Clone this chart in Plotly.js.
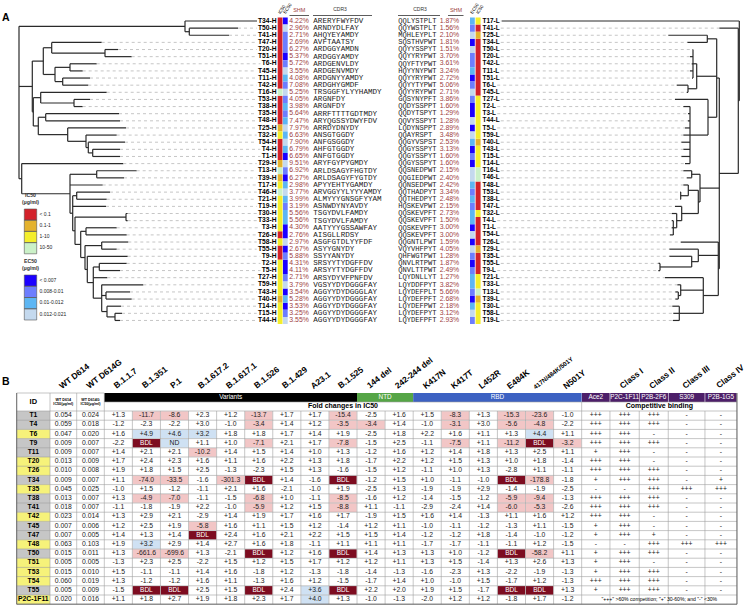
<!DOCTYPE html>
<html>
<head>
<meta charset="utf-8">
<script src="https://cdn.plot.ly/plotly-3.0.1.min.js"></script>
<style>html,body{margin:0;padding:0;background:#fff;}#chart{width:750px;height:606px;}</style>
</head>
<body>
<div id="chart"></div>
<script>
// ======================= DATA : panel A =======================
const heavyIds = ["T34","T50","T41","T47","T20","T51","T6","T45","T11","T42","T16","T53","T38","T35","T48","T25","T32","T54","T4","T1","T29","T13","T39","T17","T46","T21","T19","T30","T33","T3","T26","T58","T55","T9","T2","T5","T27","T59","T43","T40","T14","T15","T44"];
const heavySHM = [4.22,2.96,2.71,2.69,6.27,5.37,5.72,3.55,4.08,7.08,5.25,4.05,3.98,5.64,7.47,7.97,6.63,7.90,6.79,6.65,9.51,6.92,6.27,2.98,3.77,3.99,3.19,5.56,5.56,4.30,2.76,2.97,2.67,5.88,4.31,4.11,2.71,3.79,3.54,5.28,3.53,3.25,3.55];
const heavyCDR3 = ["ARERYFWYFDV","ARNDYDLFAY","AHQYEYAMDY","AVFTAATSY","ARDGGYAMDN","ARDGGYAMDY","ARDGENVLDY","ARDGENVMDY","ARDGNYYAMDY","ARDGHYGMDF","TRSGGFYLYYHAMDY","ARGNFDY","ARGNFDY","ARRFTTTTGDTMDY","ARYQGSSYDWYFDV","ARRDYDNYDY","ANSGTGGDY","ANFGSGGDY","AHFGTGGDY","ANFGTGGDY","ARYFGYPYGMDY","ARLDSAGYFHGTDY","ARLDSAGYFYGTDY","APYYEHTYGAMDY","ARVGGYYLYYYAMDY","ALMYYYGNSGFYYAM","ASNWDYNYAVDY","TSGYDVLFAMDY","TSGYDVLFAMDY","AATYYYGSSAWFAY","AISGLLRDSY","ASGFGTDLYYFDF","ASYYGNYDY","SSYYANYDY","SRSYYTYDGFFDV","ARSYYTYDGFFDV","ARSYDYVFPNFDV","VGSYYDYDGGGFAY","AGGYYDYDGGGLAY","AGGYYDYDGGGFAY","AGGYYDYDGGGFAY","AGGYYDYDGGGFAY","AGGYYDYDGGGFAY"];
// IC50 class (0:<0.1, 1:0.1-1, 2:1-10, 3:10-50) and EC50 class (0:<0.007 .. 3:0.012-0.021), per heavyIds
const ic50Class = [0,0,0,0,0,0,0,0,0,0,3,0,0,0,0,1,2,0,0,0,1,3,1,2,3,2,2,2,2,2,0,2,0,0,2,2,2,2,2,1,2,2,2];
const ec50Class = [0,3,1,1,1,0,1,3,2,1,3,1,2,1,2,3,2,3,2,0,3,1,0,2,3,2,1,2,2,0,0,3,0,1,0,0,1,3,0,2,0,1,3];
const lightIds = ["T17","T41","T25","T34","T50","T20","T42","T11","T51","T6","T45","T27","T2","T3","T44","T5","T59","T40","T43","T15","T14","T16","T46","T48","T53","T38","T47","T32","T4","T1","T54","T26","T29","T35","T55","T9","T21","T33","T13","T39","T30","T58","T19"];
const lightSHM = [1.87,1.56,2.10,1.81,1.51,3.70,3.61,3.24,2.72,5.06,2.71,3.86,1.60,1.29,1.28,2.89,3.48,2.53,3.13,1.60,1.60,2.15,2.40,2.42,3.34,2.48,2.15,2.73,1.50,3.00,3.00,1.59,4.05,1.28,1.87,2.49,1.27,3.82,5.66,2.68,2.18,3.12,2.93];
const lightCDR3 = ["QQLYSTPLT","QQYWSTPLT","MQHLEYPLT","SQSTHVPWT","QQYYSSPYT","QQYYRYPWT","QQYFTYPWT","HQYYNYPWT","QQYYRYPWT","QQYYTYPWT","QQYYRYPWT","GQSYNYPFT","QQDYSSPPT","QQDYTSPYT","QQVYSSPYT","LQDYNSPPT","QQAYRSPT","QQGYVSPST","QQGYSSPYT","QQGYSSPYT","QQGYSSPYT","QQSNEDPWT","QQGIEDPWT","QQNSEDPWT","QQTHADPYT","QQTHEDPYT","HQSKEVPWT","QQSKEVPFT","QQSKEVPFT","QQSKEVPFT","QQSKEVPFT","QQGNTLPWT","VQYVHFPYT","QHFWGTPWT","QNVLRTPWT","QNVLTTPWT","LQYDNLLYT","LQYDDFPYT","LQYDEFPLT","LQYDEFPFT","LQYDEFPWT","LQYDEFPYT","LQYDEFPFT"];
const ic50Legend = ["< 0.1","0.1-1","1-10","10-50"];
const ec50Legend = ["< 0.007","0.008-0.01","0.01-0.012","0.012-0.021"];
// dendrograms: node = [distance from root, ...children]; leaf = [id, distance from root]
const heavyTree = [0,
  [166, ["T34",238], [170.3, ["T50",219], ["T41",210]]],
  [13.3,
    [24.3,
      [32.7, ["T47",82.7], [86, ["T20",99], ["T51",112.7]]],
      [36, [51, ["T6",77.7], ["T45",63.7]], [43.7, ["T11",71], ["T42",69.3]]]],
    [14.3,
      [21.7, ["T16",87.7], [55, ["T53",71], ["T38",63.7]]],
      [19.3, [26.7, ["T35",100], ["T48",101]],
        [48.7, ["T25",107], [67, ["T32",97.7], [69.3, ["T54",106], [73.7, ["T4",101], ["T1",101]]]]]]]],
  [2.7, ["T29",104.3],
    [51, [77.7, ["T13",117.7], ["T39",105]], ["T17",83.7],
      [53.7, [57.7, ["T46",91], ["T21",87.7]], ["T19",87],
        [56, [107, ["T30",108.7], ["T33",108.7]],
          [61.7, [67, ["T3",97.7], ["T26",107.7]],
            [66, [82.7, ["T58",109.3], ["T55",97.7]],
              [68.3, ["T9",108.7],
                [74.3, [80.3, ["T2",107.7], ["T5",101]], ["T27",88.3],
                  [82.7, ["T59",124.3], [87, ["T43",111], ["T40",112.7]],
                    [88, ["T14",102], [96, ["T15",103], ["T44",101]]]]]]]]]]]]
];
const lightTree = [0, ["T17",237.6],
  [1, ["T41",20],
    [20,
      [22.6,
        [32, ["T25",71], ["T34",52]],
        [42.6, [46.3, ["T50",46.6], ["T20",49.3], ["T42",47.6], ["T11",49.3], ["T51",47.3]], [51.3, ["T6",62.6], ["T45",52.6]]],
        [31.3, ["T27",64.3], [49.3, ["T2",56], ["T3",51.3], ["T44",51.3], ["T5",54.3], ["T59",56], ["T40",58], ["T43",56], ["T15",58], ["T14",54.3]]]],
      [39.3,
        [47.6, ["T16",56], ["T46",52.6]],
        [41, [51, ["T48",56], [58.6, ["T53",59.3], ["T38",59.3]]],
             [57.6, ["T47",64.3], [62.6, ["T32",67.6], [66, ["T4",67.6], ["T1",67.6], ["T54",69.3]]]]]],
      [21, ["T26",58.6],
        [41, ["T29",70], [47.6, ["T35",70], [79.3, ["T55",81], ["T9",81]]]],
        [36, ["T21",74.3], [58.6, ["T33",62], [61, ["T13",64], ["T39",64]]], [60, ["T30",67], ["T58",66], ["T19",66.5]]]]]]
];

// ======================= DATA : panel B =======================
const tableIds = ["T1","T4","T6","T9","T11","T20","T26","T34","T35","T38","T41","T42","T45","T47","T48","T50","T51","T53","T54","T55","P2C-1F11"];
const idHighlight = ["g","g","y","g","g","y","y","g","y","g","g","y","g","g","y","g","y","y","y","g","y"];
const wtD614 = ["0.054","0.059","0.047","0.009","0.009","0.013","0.010","0.009","0.045","0.013","0.018","0.023","0.007","0.007","0.063","0.015","0.005","0.015","0.060","0.005","0.020"];
const wtD614G = ["0.024","0.018","0.020","0.007","0.007","0.009","0.008","0.007","0.025","0.007","0.007","0.014","0.006","0.005","0.103","0.011","0.005","0.010","0.019","0.009","0.016"];
const colLabels = ["WT D614","WT D614G","B.1.1.7","B.1.351","P.1","B.1.617.2","B.1.617.1","B.1.526","B.1.429","A23.1","B.1.525","144 del","242-244 del","K417N","K417T","L452R","E484K","417N/484K/501Y","N501Y"];
const groupNames = ["Variants","NTD","RBD"];
const groupSpans = [9,2,6];
const compLabels = ["Ace2","P2C-1F11","P2B-2F6","S309","P2B-1G5"];
const classLabels = ["","Class I","Class II","Class III","Class IV"];
const foldChanges = [
 ["+1.3","-11.7","-8.6","+2.3","+1.2","-13.7","+1.7","+1.7","-15.4","-2.5","+1.6","+1.5","-8.3","+1.3","-15.3","-23.6","-1.0"],
 ["-1.2","-2.3","-2.2","+3.0","-1.0","-3.4","+1.4","+1.2","-3.5","-3.4","+1.4","-1.0","-3.1","+3.0","-5.6","-4.8","-2.2"],
 ["+1.6","+4.9","+4.6","+3.2","+1.8","+1.8","+1.7","+1.4","+1.9","-2.5","+1.8","+2.2","+1.6","+1.1","+1.3","+4.4","+1.1"],
 ["-2.2","BDL","ND","+1.1","+1.0","-7.1","+2.1","+1.7","-7.8","-1.5","+2.5","-1.1","-7.5","+1.1","-11.2","BDL","-3.2"],
 ["+1.4","+2.1","+2.1","-10.2","+1.4","+1.5","+1.4","+1.0","+1.3","-1.2","+1.6","+1.2","+1.4","+1.8","+1.3","+2.5","+1.1"],
 ["+1.7","+2.4","+2.3","+1.6","+1.1","+1.6","+2.2","+1.3","+1.8","-1.7","+2.2","+1.2","+1.5","+1.3","+1.0","+1.8","-1.4"],
 ["+1.9","+1.8","+1.5","+2.5","-1.3","-2.3","+1.5","+1.3","-1.6","-1.5","+1.2","-1.1","+1.0","+1.3","-2.8","+1.1","-1.1"],
 ["+1.1","-74.0","-33.5","-1.6","-301.3","BDL","+1.4","-1.6","BDL","-1.2","+1.5","+1.0","-1.1","-1.0","BDL","-178.8","-1.8"],
 ["-1.0","+1.5","-1.2","-1.1","+2.1","+1.6","-2.1","-1.0","+1.9","-2.5","+1.3","-1.9","-1.9","+2.9","-1.4","-1.9","-2.5"],
 ["+1.3","-4.9","-7.0","-1.1","-1.5","-6.8","+1.0","-1.1","-8.5","-1.6","+1.2","-1.4","-1.5","-1.2","-5.9","-9.4","-1.3"],
 ["-1.1","-1.8","-1.9","+2.2","-1.0","-5.9","+1.2","+1.5","-8.8","+1.1","-1.1","-2.9","-2.4","+1.4","-6.0","-5.3","-2.6"],
 ["+1.3","+2.9","+2.1","-2.9","+1.4","+1.9","+1.7","+1.6","+1.7","-1.9","+1.5","+1.6","+1.4","-1.3","+1.1","+1.6","+1.2"],
 ["+1.2","+2.5","+1.9","-5.8","+1.6","+1.1","+1.5","+1.2","-1.4","+1.2","+1.1","-1.0","-1.1","-1.2","-1.3","+1.1","-1.5"],
 ["+1.4","+1.3","+1.4","BDL","+2.4","+1.6","+2.1","+2.2","+1.5","+1.5","+1.4","-1.2","-1.2","+1.8","-1.4","-1.0","-1.2"],
 ["+1.9","+3.2","+2.9","+1.4","+2.7","+1.6","+1.8","-1.1","+1.1","+1.1","+1.1","-1.7","-1.7","-1.1","-1.1","+1.2","-1.5"],
 ["+1.3","-661.6","-699.6","+1.3","-2.1","BDL","+1.2","+1.6","BDL","+1.4","+1.3","+1.3","+1.0","-1.2","BDL","-58.2","+1.1"],
 ["-1.3","+2.3","+2.5","-2.2","+1.5","+1.2","+1.5","+1.7","+1.2","+1.2","+1.1","+1.3","+1.5","-1.4","+1.3","+2.6","+1.3"],
 ["+1.5","-1.1","-1.1","+1.4","+1.6","-1.8","+1.2","-1.3","-1.8","-1.4","-1.3","-1.6","-2.3","+1.3","-2.2","-1.9","-1.3"],
 ["+1.3","-1.2","-1.2","+1.6","+1.1","-1.3","+1.6","+1.2","-1.5","-1.7","+1.4","+1.0","-1.0","+1.5","-1.7","+1.2","-1.3"],
 ["-1.5","BDL","BDL","+2.5","+1.5","BDL","+2.4","+3.6","BDL","+2.2","+2.0","+1.9","+1.5","-1.7","BDL","BDL","+1.3"],
 ["+1.1","+1.8","+2.7","+1.9","+1.8","+2.3","+1.7","+4.0","+1.3","-1.0","-1.3","-2.0","+1.2","+1.2","-1.8","+1.7","-1.2"]
];
const competition = [
 ["+++","+++","+++","-","-"],["+++","+++","+++","-","-"],["+++","+++","-","-","-"],["+++","+++","+++","-","-"],
 ["+","+++","-","-","-"],["+++","+++","-","-","-"],["+++","+++","+++","-","-"],["+","+++","+++","-","+"],
 ["-","-","+++","+++","+++"],["+++","+++","+++","-","-"],["+++","+++","+++","-","-"],["+++","+++","-","-","-"],
 ["+","+++","-","-","-"],["+","+++","+","-","-"],["-","-","+++","+++","+++"],["+","+++","+++","-","-"],
 ["+","+++","-","-","-"],["+","+++","+++","-","-"],["+++","+++","+++","-","-"],["+","+++","+++","-","-"],
 null
];
const footnote = '"+++" >60% competition; "+" 30-60%; and "-" <30%';

// ======================= STYLES / HELPERS =======================
const SANS = '"Liberation Sans", Arial, sans-serif';
const MONO = '"Liberation Mono", "DejaVu Sans Mono", monospace';
const IC50_COLORS = ['#d3222a','#e4b22e','#f4ee2c','#cbf1c8'];
const EC50_COLORS = ['#1c00ff','#6d7efe','#5db6f3','#c4d9ee'];
const SHM_COLOR = '#9e4141';

const lineStyles = {
  tree:{color:'#2a2a2a',width:1.2},
  dash:{color:'#b8b8b8',width:0.8,dash:'dot'},
  grid:{color:'#a0a0a0',width:0.6},
  border:{color:'#555',width:0.8},
  ul:{color:'#333',width:0.8},
  legb:{color:'#555',width:0.6}
};
const lines = {};
function seg(k,x0,y0,x1,y1){const L=lines[k]||(lines[k]={x:[],y:[]});L.x.push(x0,x1,null);L.y.push(y0,y1,null);}
const rectOrder=[]; const rects = {};
function box(c,x0,y0,x1,y1){if(!rects[c]){rects[c]={x:[],y:[]};rectOrder.push(c);}const R=rects[c];R.x.push(x0,x1,x1,x0,x0,null);R.y.push(y0,y0,y1,y1,y0,null);}
const textGroups = {
  leftLab:{pos:'middle left',font:{family:SANS,size:6.7,color:'#000'}},
  rightLab:{pos:'middle right',font:{family:SANS,size:6.4,color:'#000'}},
  shmL:{pos:'middle right',font:{family:SANS,size:6.9,color:SHM_COLOR}},
  shmR:{pos:'middle left',font:{family:SANS,size:6.9,color:SHM_COLOR}},
  cdrH:{pos:'middle right',font:{family:MONO,size:7.6,color:'#222'}},
  cdrL:{pos:'middle right',font:{family:MONO,size:7.1,color:'#222'}},
  hdr:{pos:'middle center',font:{family:SANS,size:5,color:'#333'}},
  shmHdr:{pos:'middle center',font:{family:SANS,size:5.5,color:SHM_COLOR}},
  legT:{pos:'middle center',font:{family:SANS,size:5.2,color:'#333'}},
  legL:{pos:'middle right',font:{family:SANS,size:5,color:'#222'}},
  panel:{pos:'middle right',font:{family:SANS,size:10.5,color:'#000'}},
  cell:{pos:'middle center',font:{family:SANS,size:6.8,color:'#222'}},
  cellW:{pos:'middle center',font:{family:SANS,size:6.5,color:'#fff'}},
  idc:{pos:'middle center',font:{family:SANS,size:6.8,color:'#000'}},
  idh:{pos:'middle center',font:{family:SANS,size:7.5,color:'#000'}},
  tiny:{pos:'middle center',font:{family:SANS,size:3.7,color:'#000'}},
  barT:{pos:'middle center',font:{family:SANS,size:6.4,color:'#fff'}},
  sub:{pos:'middle center',font:{family:SANS,size:7,color:'#000'}},
  foot:{pos:'middle center',font:{family:SANS,size:5.1,color:'#000'}}
};
Object.values(textGroups).forEach(g=>{g.x=[];g.y=[];g.text=[];});
function txt(g,x,y,t){const T=textGroups[g];T.x.push(x);T.y.push(y);T.text.push(t);}
const BW = {T:.611,H:.722,L:.611,'-':.333};
function boldWidth(s,size){let w=0;for(const ch of s){w+=(BW[ch]!==undefined?BW[ch]:.556);}return w*size;}
const annotations = [];
function rotLabel(x,y,t,size,angle){annotations.push({x:x,y:y,xref:'x',yref:'y',text:'<b>'+t+'</b>',showarrow:false,xanchor:'left',yanchor:'bottom',textangle:angle,font:{family:SANS,size:size,color:'#000'},borderpad:0});}

// ======================= PANEL A =======================
const rowY = i => 21 + 7.13*i;
const halfRow = 7.13/2;
const hY = {}; heavyIds.forEach((id,i)=>hY[id]=rowY(i));
const lY = {}; lightIds.forEach((id,i)=>lY[id]=rowY(i));
const icById = {}, ecById = {};
heavyIds.forEach((id,i)=>{icById[id]=ic50Class[i];ecById[id]=ec50Class[i];});

function drawTree(tree, leafY, x0, dir){
  const leaves=[];
  function walk(n){
    if(typeof n[0]==='string'){const p={id:n[0],x:x0+dir*n[1],y:leafY[n[0]]};leaves.push(p);return p;}
    const x=x0+dir*n[0];
    const kids=n.slice(1).map(walk);
    const ys=kids.map(k=>k.y);
    const lo=Math.min(...ys), hi=Math.max(...ys);
    seg('tree',x,lo,x,hi);
    kids.forEach(k=>seg('tree',x,k.y,k.x,k.y));
    return {x:x,y:(lo+hi)/2};
  }
  walk(tree);
  return leaves;
}
const LEFT_ROOT=19, RIGHT_ROOT=739.3;
const LLAB_X=276.5, RLAB_X=482.5;
drawTree(heavyTree,hY,LEFT_ROOT,1).forEach(l=>{
  const end = LLAB_X - boldWidth(l.id+'-H',6.7) - 1.2;
  if(l.x<end-0.5) seg('dash',l.x,l.y,end,l.y);
});
drawTree(lightTree,lY,RIGHT_ROOT,-1).forEach(l=>{
  const st = RLAB_X + boldWidth(l.id+'-L',6.4) + 1.2;
  if(l.x>st+0.5) seg('dash',st,l.y,l.x,l.y);
});

heavyIds.forEach((id,i)=>{
  const y=rowY(i);
  txt('leftLab',LLAB_X,y,'<b>'+id+'-H</b>');
  box(IC50_COLORS[ic50Class[i]],277.7,y-halfRow,282.5,y+halfRow);
  box(EC50_COLORS[ec50Class[i]],282.9,y-halfRow,287.7,y+halfRow);
  txt('shmL',289.3,y,heavySHM[i].toFixed(2)+'%');
  txt('cdrH',313.3,y,heavyCDR3[i]);
});
lightIds.forEach((id,i)=>{
  const y=rowY(i);
  txt('cdrL',398.3,y,lightCDR3[i]);
  txt('shmR',459.2,y,lightSHM[i].toFixed(2)+'%');
  box(EC50_COLORS[ecById[id]],470,y-halfRow,474.8,y+halfRow);
  box(IC50_COLORS[icById[id]],475.6,y-halfRow,480.6,y+halfRow);
  txt('rightLab',RLAB_X,y,'<b>'+id+'-L</b>');
});
// column headers of panel A
txt('hdr',340,9.5,'CDR3'); seg('ul',313,15.5,372,15.5);
txt('hdr',420,9.5,'CDR3'); seg('ul',398,15.5,440,15.5);
txt('shmHdr',299.3,10.5,'SHM'); seg('ul',289.5,15.5,309,15.5);
txt('shmHdr',456,10.5,'SHM'); seg('ul',448,15.5,463.5,15.5);
function miniHdr(x,t){annotations.push({x:x,y:16.5,xref:'x',yref:'y',text:t,showarrow:false,xanchor:'left',yanchor:'bottom',textangle:-55,font:{family:SANS,size:4.6,color:'#000'},borderpad:0});}
miniHdr(275.5,'IC50'); miniHdr(280.7,'EC50'); miniHdr(467.8,'EC50'); miniHdr(473.4,'IC50');
txt('panel',2,18,'<b>A</b>');

// legend
txt('legT',30.5,196,'<b>IC50</b>'); txt('legT',30.5,202.5,'<b>(µg/ml)</b>');
ic50Legend.forEach((t,k)=>{const y0=209+k*11.2;box(IC50_COLORS[k],24.3,y0,36.7,y0+11.2);
  seg('legb',24.3,y0,36.7,y0);seg('legb',24.3,y0+11.2,36.7,y0+11.2);seg('legb',24.3,y0,24.3,y0+11.2);seg('legb',36.7,y0,36.7,y0+11.2);
  txt('legL',39.5,y0+5.6,t);});
txt('legT',30.5,262,'<b>EC50</b>'); txt('legT',30.5,268.5,'<b>(µg/ml)</b>');
ec50Legend.forEach((t,k)=>{const y0=275+k*11.25;box(EC50_COLORS[k],24.3,y0,36.7,y0+11.25);
  seg('legb',24.3,y0,36.7,y0);seg('legb',24.3,y0+11.25,36.7,y0+11.25);seg('legb',24.3,y0,24.3,y0+11.25);seg('legb',36.7,y0,36.7,y0+11.25);
  txt('legL',39.5,y0+5.6,t);});

// ======================= PANEL B =======================
const colW = [33.3,26.7,27.6].concat(Array(17).fill(28.08)).concat([28.3,29.3,29,36.7,32]);
const colE = [16.7]; colW.forEach(w=>colE.push(colE[colE.length-1]+w));
const cx = c => (colE[c]+colE[c+1])/2;
const T_TOP=393, H_ROW=9, D_TOP=411, D_ROW=9.2;
const nRows = tableIds.length, D_BOT = D_TOP + nRows*D_ROW;
const nFold = colLabels.length-2; // 17
const FOLD0 = 3, COMP0 = FOLD0+nFold; // col indices

txt('panel',2,382,'<b>B</b>');
// rotated column labels
colLabels.forEach((t,k)=>{const c=k+1; const small=t.length>12; rotLabel(cx(c)-(small?9:8), 392, t, small?6.3:8.4, -38);});
classLabels.forEach((t,k)=>{if(t) rotLabel(cx(COMP0+k)-8,392,t,8.4,-38);});

// header row 1: group bars
const groupColors = ['#000000','#55a546','#3c61c2'];
let c0 = FOLD0;
groupNames.forEach((g,k)=>{const c1=c0+groupSpans[k];box(groupColors[k],colE[c0],T_TOP,colE[c1],T_TOP+H_ROW);
  txt('barT',(colE[c0]+colE[c1])/2,T_TOP+H_ROW/2,g);c0=c1;});
compLabels.forEach((t,k)=>{const c=COMP0+k;box('#4d1f69',colE[c]+0.3,T_TOP,colE[c+1]-0.3,T_TOP+H_ROW);txt('barT',cx(c),T_TOP+H_ROW/2,t);});
// header row 2
txt('sub',(colE[FOLD0]+colE[COMP0])/2,T_TOP+H_ROW*1.5,'<b>Fold changes in IC50</b>');
txt('sub',(colE[COMP0]+colE[colW.length])/2,T_TOP+H_ROW*1.5,'<b>Competitive binding</b>');
txt('idh',cx(0),T_TOP+H_ROW,'<b>ID</b>');
txt('tiny',cx(1),T_TOP+H_ROW,'<b>WT D614<br>IC50(µg/ml)</b>');
txt('tiny',cx(2),T_TOP+H_ROW,'<b>WT D614G<br>IC50(µg/ml)</b>');

// data rows
tableIds.forEach((id,r)=>{
  const y0=D_TOP+r*D_ROW, yc=y0+D_ROW/2;
  box(idHighlight[r]==='y'?'#f6f27a':'#c6c6c6',colE[0],y0,colE[1],y0+D_ROW);
  txt('idc',cx(0),yc,'<b>'+id+'</b>');
  txt('cell',cx(1),yc,wtD614[r]);
  txt('cell',cx(2),yc,wtD614G[r]);
  foldChanges[r].forEach((v,k)=>{
    const c=FOLD0+k;
    if(v==='BDL'){box('#7d0c20',colE[c]+0.3,y0+0.3,colE[c+1]-0.3,y0+D_ROW-0.3);txt('cellW',cx(c),yc,v);return;}
    if(v==='ND'){box('#cfe1f3',colE[c]+0.3,y0+0.3,colE[c+1]-0.3,y0+D_ROW-0.3);}
    else{const n=parseFloat(v);
      if(n<=-3) box('#f2c6c6',colE[c]+0.3,y0+0.3,colE[c+1]-0.3,y0+D_ROW-0.3);
      else if(n>3) box('#cfe1f3',colE[c]+0.3,y0+0.3,colE[c+1]-0.3,y0+D_ROW-0.3);}
    txt('cell',cx(c),yc,v);
  });
  if(competition[r]) competition[r].forEach((v,k)=>txt('cell',cx(COMP0+k),yc,v));
  else txt('foot',(colE[COMP0]+colE[colW.length])/2,yc,footnote);
});
// grid
const X_END = colE[colW.length];
for(let r=0;r<=nRows;r++) seg('grid',colE[0],D_TOP+r*D_ROW,X_END,D_TOP+r*D_ROW);
seg('grid',colE[0],T_TOP,colE[FOLD0],T_TOP);
seg('grid',colE[FOLD0],T_TOP+H_ROW,X_END,T_TOP+H_ROW);
for(let c=0;c<=colW.length;c++){
  let top = (c<=FOLD0 || c===colW.length) ? T_TOP : D_TOP;
  if(c===COMP0) top = T_TOP+H_ROW;
  seg('grid',colE[c],top,colE[c],D_BOT);
}
seg('border',colE[0],T_TOP,colE[0],D_BOT);
seg('border',colE[0],D_BOT,X_END,D_BOT);
seg('border',X_END,T_TOP,X_END,D_BOT);

// ======================= TRACES =======================
const traces=[];
rectOrder.forEach(c=>traces.push({type:'scatter',mode:'lines',x:rects[c].x,y:rects[c].y,fill:'toself',fillcolor:c,line:{width:0,color:c},hoverinfo:'skip',showlegend:false}));
Object.keys(lines).forEach(k=>traces.push({type:'scatter',mode:'lines',x:lines[k].x,y:lines[k].y,line:Object.assign({},lineStyles[k]),connectgaps:false,hoverinfo:'skip',showlegend:false}));
Object.keys(textGroups).forEach(k=>{const g=textGroups[k];traces.push({type:'scatter',mode:'text',x:g.x,y:g.y,text:g.text,textposition:g.pos,textfont:g.font,cliponaxis:false,hoverinfo:'skip',showlegend:false});});

const layout={
  width:750,height:606,margin:{l:0,r:0,t:0,b:0},
  paper_bgcolor:'#fff',plot_bgcolor:'#fff',showlegend:false,hovermode:false,
  xaxis:{range:[0,750],visible:false,fixedrange:true},
  yaxis:{range:[606,0],visible:false,fixedrange:true},
  annotations:annotations
};
Plotly.newPlot('chart',traces,layout,{displayModeBar:false,staticPlot:true});
</script>
</body>
</html>
